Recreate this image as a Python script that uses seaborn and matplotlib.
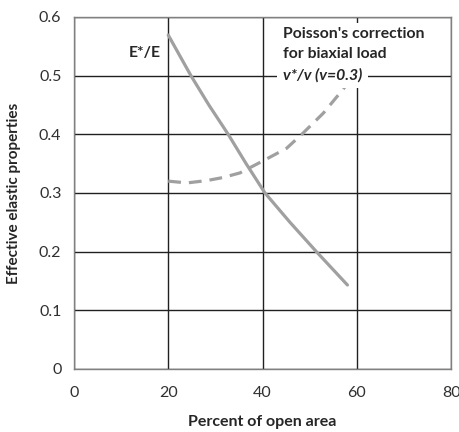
import pandas as pd
import seaborn as sns
import matplotlib.pyplot as plt

# Values
area_e = [20, 24.8, 28.6, 32.7, 36.5, 40.5, 45.8, 51.4, 58]
e_ratio = [0.569, 0.50, 0.45, 0.40, 0.35, 0.30, 0.25, 0.20, 0.143]

area_v = [20, 24, 28.2, 31.5, 35.2, 40.2, 45.1, 48.6, 52.9, 56.8, 57.5]
v_ratio = [0.320, 0.317, 0.321, 0.326, 0.334, 0.355, 0.376, 0.402, 0.436, 0.474, 0.481]

x_ticks = [0, 20, 40, 60, 80]
y_ticks = [0, 0.1, 0.2, 0.3, 0.4, 0.5, 0.6]

df_e = pd.DataFrame({'area': area_e, 'val': e_ratio})
df_v = pd.DataFrame({'area': area_v, 'val': v_ratio})

sns.set_style('white')
plt.rcParams['font.family'] = ['Lato', 'DejaVu Sans']

fig = plt.figure(figsize=(4.59, 4.32), dpi=100)
ax = fig.add_axes([0.161, 0.146, 0.822, 0.815])

sns.lineplot(data=df_e, x='area', y='val', ax=ax, color='#a0a0a0', linewidth=2.3)
sns.lineplot(data=df_v, x='area', y='val', ax=ax, color='#a0a0a0', linewidth=2.3,
             dashes=False, linestyle=(0, (4, 2.5)))

ax.set_xlim(0, 80)
ax.set_ylim(0, 0.6)
ax.set_xticks(x_ticks)
ax.set_yticks(y_ticks)
ax.set_yticklabels(['0', '0.1', '0.2', '0.3', '0.4', '0.5', '0.6'])
ax.grid(True, color='#202020', linewidth=1)
ax.set_axisbelow(True)
for s in ax.spines.values():
    s.set_color('#808080')
    s.set_linewidth(1)
ax.tick_params(labelsize=11.5, length=0, colors='#303030')
ax.tick_params(axis='x', pad=12)
ax.tick_params(axis='y', pad=9)

ax.set_xlabel('Percent of open area', fontsize=11.5, fontweight='bold', labelpad=11)
ax.set_ylabel('Effective elastic properties', fontsize=11, fontweight='bold', labelpad=13)

ax.text(18.5, 0.538, 'E*/E', fontsize=11.3, fontweight='bold', ha='right', va='center')
box = dict(facecolor='white', edgecolor='none', pad=2.5)
ax.text(44.3, 0.571, "Poisson's correction", fontsize=11.3, fontweight='bold', va='center', bbox=box)
ax.text(44.3, 0.536, 'for biaxial load', fontsize=11.3, fontweight='bold', va='center', bbox=box)
ax.text(44.3, 0.501, 'v*/v (v=0.3)', fontsize=11.3, fontweight='bold', style='italic',
        va='center', bbox=dict(facecolor='white', edgecolor='none', pad=4))

fig.savefig('out.png', dpi=100)
